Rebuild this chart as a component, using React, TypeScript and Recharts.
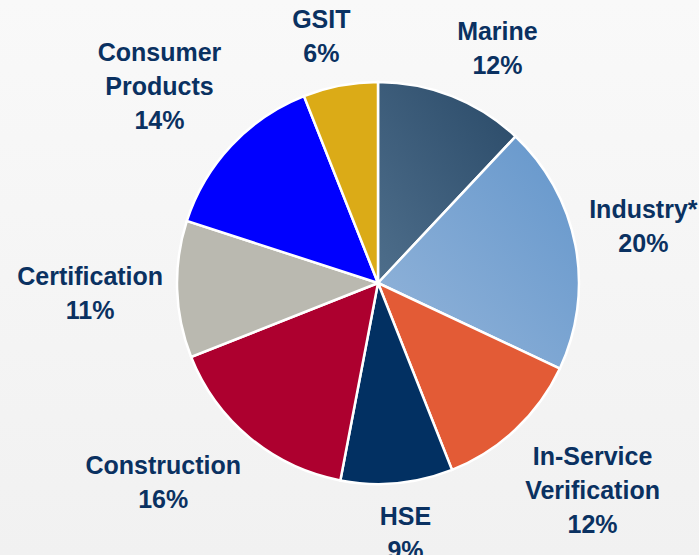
import React from 'react';
import { PieChart, Pie, Cell } from 'recharts';

const segments = ['Marine', 'Industry*', 'In-Service\nVerification', 'HSE', 'Construction', 'Certification', 'Consumer\nProducts', 'GSIT'];
const shares = [12, 20, 12, 9, 16, 11, 14, 6];
const fills = ['url(#gradMarine)', 'url(#gradIndustry)', '#e35b36', '#023062', '#ad002f', '#bab9b0', '#0000ff', '#dbab17'];

const data = segments.map((name, i) => ({ name, value: shares[i] }));

const FONT = '"Liberation Sans", Arial, sans-serif';
const FONT_SIZE = 25;
const LINE_H = 34;
const CAP_H = 18;
const GAP_X = 14;
const GAP_Y = 24;
const RADIAN = Math.PI / 180;

let ctx: CanvasRenderingContext2D | null = null;
const textWidth = (s: string) => {
  if (!ctx) ctx = document.createElement('canvas').getContext('2d');
  if (!ctx) return s.length * FONT_SIZE * 0.6;
  ctx.font = `bold ${FONT_SIZE}px ${FONT}`;
  return ctx.measureText(s).width;
};

const clamp = (v: number) => Math.max(-1, Math.min(1, v));

// label box sits just outside the slice edge, slid sideways by the slice's direction
const renderLabel = (props: any) => {
  const { cx, cy, midAngle, outerRadius, payload, value } = props;
  const lines = [...String(payload.name).split('\n'), `${value}%`];
  const w = Math.max(...lines.map(textWidth));
  const h = CAP_H + (lines.length - 1) * LINE_H;
  const ux = Math.cos(-midAngle * RADIAN);
  const uy = Math.sin(-midAngle * RADIAN);
  const x = cx + (outerRadius + GAP_X) * ux + (w / 2) * clamp(3 * ux);
  const midY = cy + (outerRadius + GAP_Y) * uy + (h / 2) * clamp(3 * uy);
  const top = midY - h / 2;
  return (
    <g>
      {lines.map((line, i) => (
        <text
          key={i}
          x={x}
          y={top + CAP_H + i * LINE_H}
          textAnchor="middle"
          fill="#0a3161"
          fontFamily={FONT}
          fontWeight="bold"
          fontSize={FONT_SIZE}
        >
          {line}
        </text>
      ))}
    </g>
  );
};

export default function App() {
  return (
    <div style={{ position: 'absolute', left: 0, top: 0, width: 699, height: 555, background: 'linear-gradient(#f9f9f9, #f1f1f1)' }}>
      <PieChart width={699} height={555} margin={{ top: 0, right: 0, bottom: 0, left: 0 }}>
        <defs>
          <linearGradient id="gradMarine" x1="0" y1="1" x2="1" y2="0">
            <stop offset="0%" stopColor="#4e6e8b" />
            <stop offset="100%" stopColor="#2a4a68" />
          </linearGradient>
          <linearGradient id="gradIndustry" x1="0" y1="1" x2="1" y2="0">
            <stop offset="0%" stopColor="#94b5da" />
            <stop offset="100%" stopColor="#6496cb" />
          </linearGradient>
        </defs>
        <Pie
          data={data}
          dataKey="value"
          nameKey="name"
          cx={378}
          cy={283}
          outerRadius={201}
          startAngle={90}
          endAngle={-270}
          stroke="#ffffff"
          strokeWidth={2.5}
          label={renderLabel}
          labelLine={false}
          isAnimationActive={false}
        >
          {data.map((d, i) => (
            <Cell key={d.name} fill={fills[i]} />
          ))}
        </Pie>
      </PieChart>
    </div>
  );
}
